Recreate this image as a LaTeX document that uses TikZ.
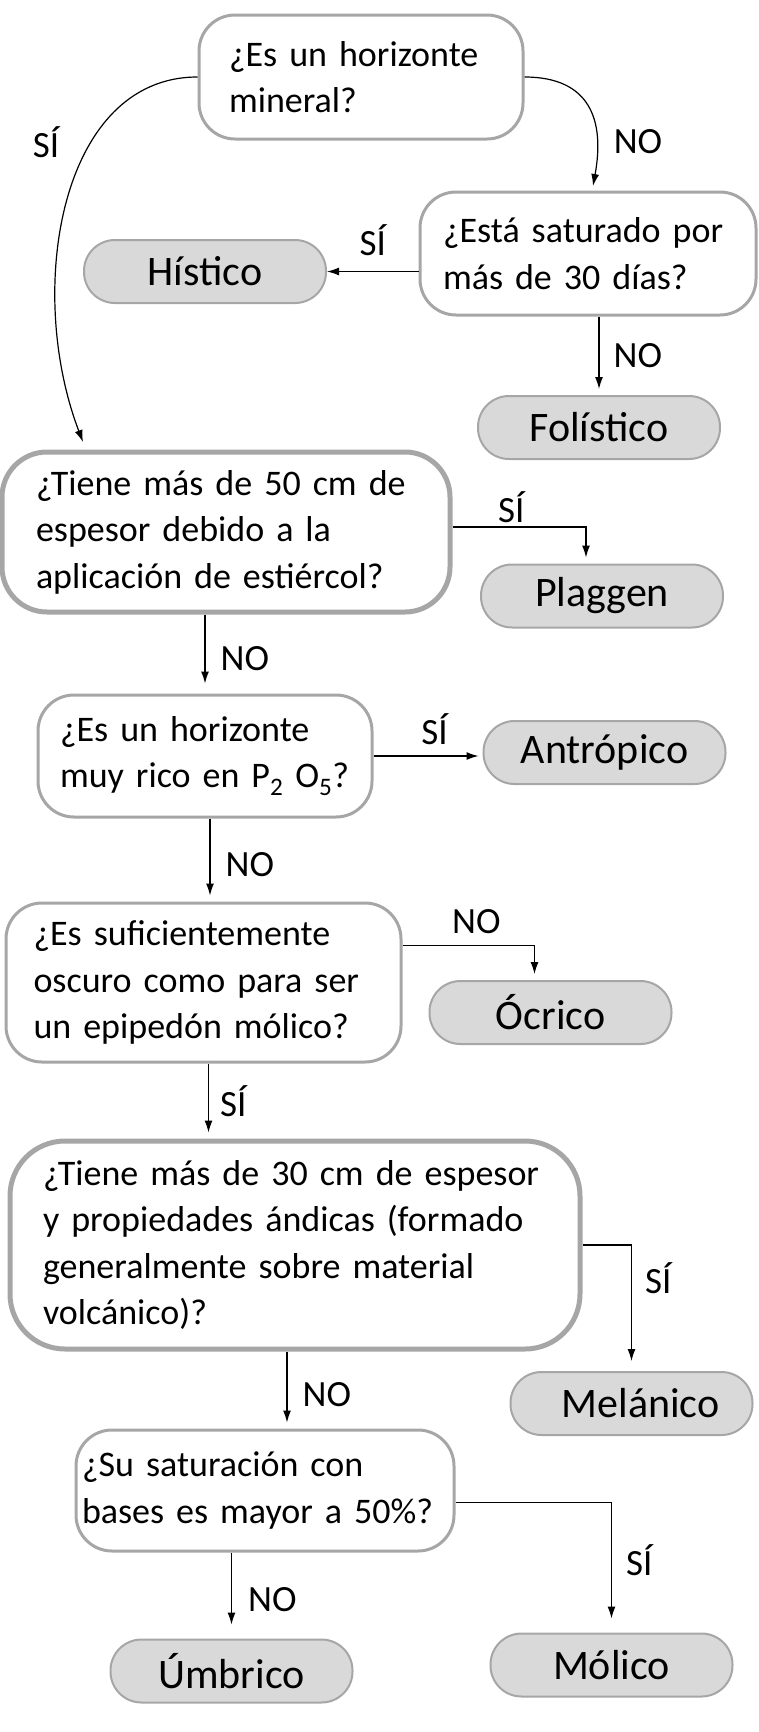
\documentclass[tikz,border=0pt]{standalone}
\usepackage{fontspec}
\setmainfont{Carlito}
\usetikzlibrary{arrows.meta}
\definecolor{rim}{HTML}{A6A6A6}
\definecolor{leaf}{HTML}{D9D9D9}

\begin{document}
\begin{tikzpicture}[x=1pt, y=-1pt,
      question/.style={draw=rim, fill=white, line width=3pt, rounded corners=36pt, align=left,
                       inner sep=0pt, font=\fontsize{36}{46.5}\selectfont},
      answer/.style={draw=rim, fill=leaf, line width=2pt, rounded corners=31pt, minimum width=242pt,
                     minimum height=63pt, font=\fontsize{42}{50}\selectfont},
      lbl/.style={inner sep=0pt, font=\fontsize{37}{44}\selectfont},
      arr/.style={-{Latex[length=12pt, width=8pt]}, line width=1.2pt, shorten >=6pt}]
    \useasboundingbox (0,0) rectangle (758,1732);
    \node[question, minimum width=324pt, minimum height=124pt, text width=264pt] (mineral) at (361,77) {¿Es un horizonte\\mineral?};
    \node[question, minimum width=336pt, minimum height=123pt, text width=290pt] (saturado) at (588,253.5) {¿Está saturado por\\más de 30 días?};
    \node[answer] (histico) at (205,271.5) {Hístico};
    \node[answer] (folistico) at (599,427.5) {Folístico};
    \node[question, line width=5pt, rounded corners=45pt, minimum width=448pt, minimum height=160pt, text width=380pt] (estiercol) at (226,532) {¿Tiene más de 50 cm de\\espesor debido a la\\aplicación de estiércol?};
    \node[answer] (plaggen) at (602,596) {Plaggen};
    \node[question, minimum width=334pt, minimum height=122pt, text width=290pt] (fosforo) at (205,756) {¿Es un horizonte\\muy rico en P\textsubscript{2} O\textsubscript{5}?};
    \node[answer] (antropico) at (604.5,752.5) {Antrópico};
    \node[question, minimum width=395pt, minimum height=159pt, text width=340pt] (oscuro) at (203.5,982.5) {¿Es suficientemente\\oscuro como para ser\\un epipedón mólico?};
    \node[answer] (ocrico) at (550.5,1012.5) {Ócrico};
    \node[question, line width=5pt, rounded corners=55pt, minimum width=570pt, minimum height=208pt, text width=504pt] (andicas) at (295,1245) {¿Tiene más de 30 cm de espesor\\y propiedades ándicas (formado\\generalmente sobre material\\volcánico)?};
    \node[answer] (melanico) at (631.5,1403.5) {\hspace*{18pt}Melánico};
    \node[question, minimum width=378pt, minimum height=121pt, text width=366pt] (bases) at (265,1490.5) {¿Su saturación con\\bases es mayor a 50\%?};
    \node[answer] (umbrico) at (231.5,1671) {Úmbrico};
    \node[answer] (molico) at (611.5,1665) {Mólico};
    \coordinate (siTip) at (83,442);
    \coordinate (noTip) at (593,186);

    \draw[arr, shorten >=0pt] (mineral.west) .. controls (60,77) and (25,290) .. (siTip);
    \node[lbl] (siMineral) at (46,142) {SÍ};
    \draw[arr, shorten >=0pt] (mineral.east) .. controls (590,77) and (605,120) .. (noTip);
    \node[lbl] (noMineral) at (638,142) {NO};
    \draw[arr, shorten >=0pt] (saturado.west |- histico.east) -- node[lbl, above=15pt] (siSaturado) {SÍ} (histico.east);
    \draw[arr] (folistico.north |- saturado.south) -- node[lbl, right=14pt] (noSaturado) {NO} (folistico.north);
    \draw[arr] ([yshift=5pt]estiercol.east) -| node[lbl, pos=0.22, above=4pt] (siEstiercol) {SÍ} ([xshift=-16pt]plaggen.north);
    \draw[arr, shorten >=10pt] (fosforo.north |- estiercol.south) -- node[lbl, right=15pt, yshift=-5pt] (noEstiercol) {NO} (fosforo.north);
    \draw[arr, shorten >=4pt] (fosforo.east) -- node[lbl, pos=0.56, above=11pt] (siFosforo) {SÍ} (fosforo.east -| antropico.west);
    \draw[arr] ([xshift=5pt]fosforo.south) -- node[lbl, right=15pt, yshift=-5pt] (noFosforo) {NO} ([xshift=5pt]fosforo.south |- oscuro.north);
    \draw[arr] ([yshift=37pt]oscuro.east) -| node[lbl, pos=0.28, above=11pt] (noOscuro) {NO} ([xshift=-16pt]ocrico.north);
    \draw[arr] ([xshift=5pt]oscuro.south) -- node[lbl, right=11pt] (siOscuro) {SÍ} ([xshift=5pt]oscuro.south |- andicas.north);
    \draw[arr, shorten >=10pt] (andicas.east) -| node[lbl, pos=0.63, right=13pt] (siAndicas) {SÍ} (melanico.north);
    \draw[arr] ([xshift=-8pt]andicas.south) -- node[lbl, right=15pt, yshift=-5pt] (noAndicas) {NO} ([xshift=-8pt]andicas.south |- bases.north);
    \draw[arr, shorten >=14pt] ([yshift=-12pt]bases.east) -| node[lbl, pos=0.72, right=14pt] (siBases) {SÍ} (molico.north);
    \draw[arr, shorten >=14pt] (umbrico.north |- bases.south) -- node[lbl, right=16pt, yshift=-4pt] (noBases) {NO} (umbrico.north);
\end{tikzpicture}
\end{document}
